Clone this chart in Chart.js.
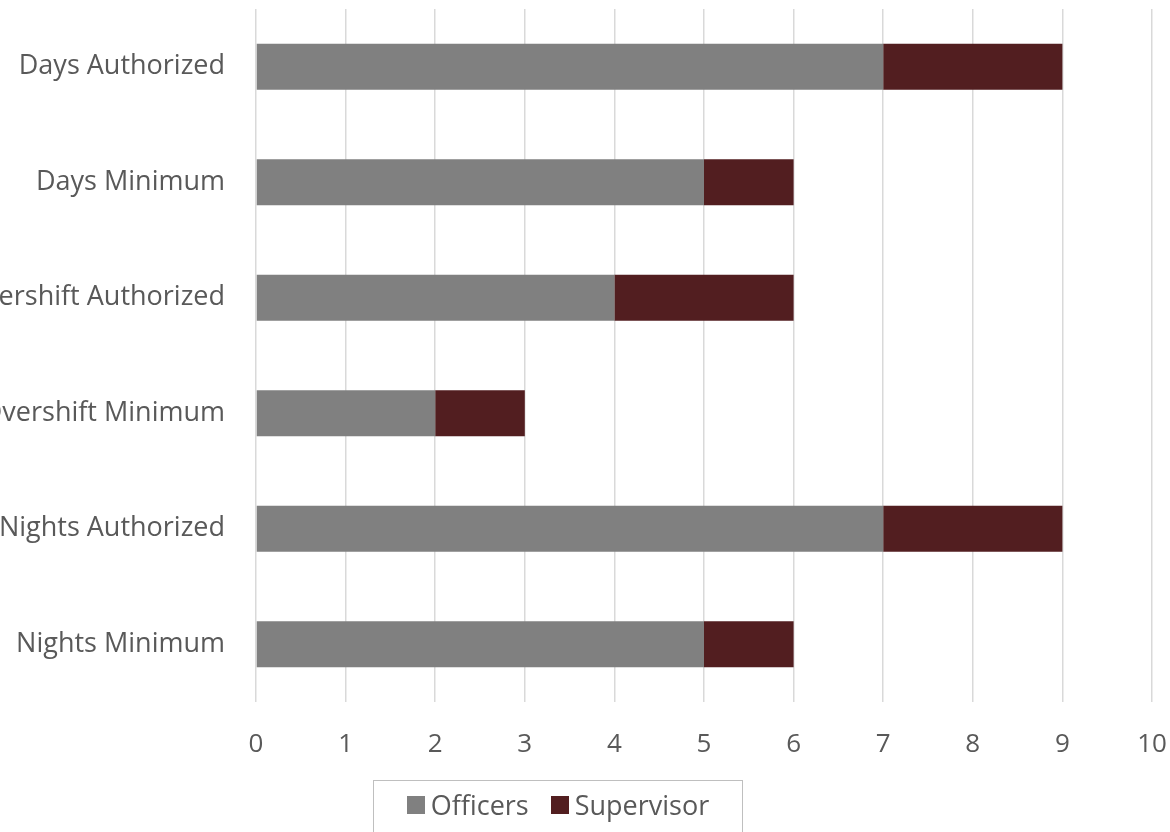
<!DOCTYPE html>
<html>
<head>
<meta charset="utf-8">
<script src="https://cdn.jsdelivr.net/npm/chart.js@4"></script>
<style>
    body { margin: 0; background: #fff; overflow: hidden; }
    .wrap { position: relative; width: 1170px; height: 832px; overflow: hidden; }
    #myChart { position: absolute; left: -80px; top: 0; width: 1250px; height: 832px; }
    #legend {
        position: absolute; left: 373px; top: 780px; width: 370px; height: 70px;
        border: 1.5px solid #bfbfbf; box-sizing: border-box;
        font-family: "Open Sans", sans-serif; font-size: 27px; color: #595959;
        display: flex; justify-content: center; align-items: flex-start; padding-top: 5px;
    }
    #legend span.item { display: flex; align-items: center; margin: 0 11px; }
    #legend span.sw { display: inline-block; width: 18px; height: 18px; margin-right: 6px; }
</style>
</head>
<body>
<div class="wrap">
    <canvas id="myChart" width="1250" height="832"></canvas>
    <div id="legend"></div>
</div>
<script>
const categories = [
    "Days Authorized",
    "Days Minimum",
    "Overshift Authorized",
    "Overshift Minimum",
    "Nights Authorized",
    "Nights Minimum"
];
const officers = [7, 5, 4, 2, 7, 5];
const supervisor = [2, 1, 2, 1, 2, 1];
const xTicks = [0, 1, 2, 3, 4, 5, 6, 7, 8, 9, 10];

const textColor = "#595959";
const fontFamily = "'Open Sans', sans-serif";

// drop the padding chart.js reserves for edge tick labels
function noEdgePadding(axis) {
    axis.paddingTop = 0;
    axis.paddingBottom = 0;
    axis.paddingLeft = 0;
    axis.paddingRight = 0;
}

const ctx = document.getElementById("myChart").getContext("2d");

const chart = new Chart(ctx, {
    type: "bar",
    data: {
        labels: categories,
        datasets: [
            {
                label: "Officers",
                data: officers,
                backgroundColor: "#808080",
                categoryPercentage: 1,
                barPercentage: 0.4
            },
            {
                label: "Supervisor",
                data: supervisor,
                backgroundColor: "#521e20",
                categoryPercentage: 1,
                barPercentage: 0.4
            }
        ]
    },
    options: {
        indexAxis: "y",
        responsive: false,
        devicePixelRatio: 1,
        animation: false,
        layout: {
            padding: { top: 9, right: 18, bottom: 64, left: 0 }
        },
        plugins: {
            legend: { display: false },
            tooltip: { enabled: false }
        },
        scales: {
            x: {
                stacked: true,
                min: xTicks[0],
                max: xTicks[xTicks.length - 1],
                afterBuildTicks: (axis) => {
                    axis.ticks = xTicks.map(v => ({ value: v }));
                },
                afterFit: (axis) => {
                    axis.height = 66;
                    noEdgePadding(axis);
                },
                grid: {
                    color: "#d9d9d9",
                    lineWidth: 1.5,
                    drawTicks: false
                },
                border: { display: false },
                ticks: {
                    color: textColor,
                    padding: 27,
                    font: { family: fontFamily, size: 26 }
                }
            },
            y: {
                stacked: true,
                grid: { display: false },
                border: { display: false },
                afterFit: (axis) => {
                    axis.width = 336;
                    noEdgePadding(axis);
                },
                ticks: {
                    color: textColor,
                    padding: 23,
                    font: { family: fontFamily, size: 27 }
                }
            }
        }
    }
});

const legendEl = document.getElementById("legend");
chart.data.datasets.forEach(ds => {
    const item = document.createElement("span");
    item.className = "item";
    const sw = document.createElement("span");
    sw.className = "sw";
    sw.style.background = ds.backgroundColor;
    item.appendChild(sw);
    item.appendChild(document.createTextNode(ds.label));
    legendEl.appendChild(item);
});
</script>
</body>
</html>
